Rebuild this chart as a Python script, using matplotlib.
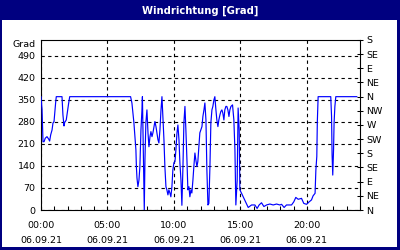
import numpy as np
import matplotlib
matplotlib.use("Agg")
import matplotlib.pyplot as plt
from matplotlib.patches import Rectangle
from matplotlib.ticker import MultipleLocator

# ─── DATA ─────────────────────────────────────────────────────────────
# time of day in hours (06.09.21), wind direction in degrees
hours = [0.00, 0.08, 0.15, 0.23, 0.32, 0.45, 0.58, 0.65, 0.73, 0.83, 0.90, 0.98,
         1.03, 1.11, 1.15, 1.58, 1.65, 1.73, 1.78, 1.90, 1.98, 2.08, 2.16,
         6.74, 6.84, 6.92, 6.99, 7.07, 7.14, 7.18, 7.22, 7.29, 7.37, 7.44, 7.52,
         7.59, 7.63, 7.77, 7.82, 7.89, 7.97, 8.05, 8.12, 8.20, 8.27, 8.35, 8.42,
         8.50, 8.57, 8.65, 8.72, 8.80, 8.87, 8.95, 9.02, 9.10, 9.17, 9.25, 9.32,
         9.40, 9.47, 9.55, 9.62, 9.70, 9.77, 9.85, 9.92, 10.00,
         10.08, 10.15, 10.23, 10.30, 10.38, 10.45, 10.53, 10.60, 10.68, 10.75,
         10.83, 10.90, 10.98, 11.05, 11.13, 11.20, 11.28, 11.35, 11.43, 11.50,
         11.58, 11.65, 11.73, 11.80, 11.88, 11.95, 12.03, 12.11, 12.18, 12.26,
         12.33, 12.41, 12.48, 12.56, 12.63, 12.71, 12.78, 12.86, 12.93, 13.01,
         13.08, 13.16, 13.23, 13.31, 13.38, 13.46, 13.53, 13.61, 13.68, 13.76,
         13.83, 13.91, 13.98, 14.06, 14.14, 14.21, 14.29, 14.41, 14.51, 14.59,
         14.66, 14.76, 14.83, 14.91, 14.96,
         15.09, 15.21, 15.59, 15.84, 16.09, 16.26, 16.41, 16.59, 16.77, 16.97,
         17.22, 17.47, 17.72, 17.97, 18.10, 18.29, 18.47, 18.85, 19.02, 19.17,
         19.35, 19.60, 19.77, 19.98, 20.15, 20.35, 20.47, 20.62, 20.68, 20.75,
         20.79, 20.85, 21.80, 21.86, 21.90, 21.95, 22.01, 22.05, 22.11, 22.18,
         23.76]
direction = [360, 318, 217, 217, 228, 233, 225, 219, 239, 254, 276, 281,
             307, 345, 360, 360, 302, 267, 278, 286, 310, 339, 360,
             360, 340, 308, 277, 233, 191, 134, 102, 74, 95, 138, 255,
             313, 360, 0, 159, 277, 318, 245, 201, 233, 249, 233, 245,
             265, 281, 265, 245, 223, 213, 255, 313, 360, 297, 223, 138,
             74, 64, 48, 64, 54, 42, 74, 127, 150,
             154, 191, 245, 270, 223, 150, 95, 15, 138, 277,
             329, 255, 159, 64, 74, 42, 64, 54, 95, 138,
             181, 159, 138, 154, 201, 245, 255, 265, 297, 318,
             340, 286, 127, 16, 21, 138, 277, 318, 329, 350,
             360, 318, 286, 265, 286, 302, 313, 318, 308, 286,
             318, 329, 329, 318, 297, 318, 329, 334, 286, 191,
             16, 95, 324, 255, 64,
             53, 42, 8, 16, 16, 5, 16, 23, 11, 16,
             19, 16, 19, 16, 18, 8, 16, 16, 26, 40,
             34, 37, 21, 18, 25, 32, 45, 53, 127, 170,
             281, 360, 360, 297, 175, 111, 191, 277, 329, 360,
             360]

x_major = [0, 5, 10, 15, 20]
x_labels = ['00:00\n06.09.21', '05:00\n06.09.21', '10:00\n06.09.21',
            '15:00\n06.09.21', '20:00\n06.09.21']
y_left = [0, 70, 140, 210, 280, 350, 420, 490]
compass = ['N', 'NE', 'E', 'SE', 'S', 'SW', 'W', 'NW',
           'N', 'NE', 'E', 'SE', 'S']

NAVY = '#000080'
FS = 6.8

# ─── FIGURE ───────────────────────────────────────────────────────────
fig = plt.figure(figsize=(4, 2.5), dpi=100)
fig.patch.set_facecolor('white')

# title bar and frame
fig.patches.append(Rectangle((0, 1 - 20 / 250), 1, 20 / 250, transform=fig.transFigure,
                             facecolor=NAVY, edgecolor='none', zorder=0))
fig.patches.append(Rectangle((0, 0), 2 / 400, 1, transform=fig.transFigure,
                             facecolor=NAVY, edgecolor='none', zorder=0))
fig.patches.append(Rectangle((397 / 400, 0), 3 / 400, 1, transform=fig.transFigure,
                             facecolor=NAVY, edgecolor='none', zorder=0))
fig.patches.append(Rectangle((0, 0), 1, 3 / 250, transform=fig.transFigure,
                             facecolor=NAVY, edgecolor='none', zorder=0))
fig.text(0.5, 1 - 10.5 / 250, 'Windrichtung [Grad]', color='white', fontsize=7.2,
         fontweight='bold', ha='center', va='center')

ax = fig.add_axes([41 / 400, 40 / 250, 319 / 400, 170 / 250])
ax.set_facecolor('white')
ax.plot(hours, direction, color='#0000ff', lw=0.85, zorder=3)

ax.set_xlim(0, 24)
ax.set_ylim(0, 540)

ax.set_xticks(x_major)
ax.set_xticklabels(x_labels, fontsize=FS, linespacing=1.9)
ax.xaxis.set_minor_locator(MultipleLocator(1))
ax.tick_params(axis='x', which='both', direction='in', length=3, width=0.75, pad=8)

ax.set_yticks(y_left)
ax.set_yticklabels([str(v) for v in y_left], fontsize=FS)
ax.tick_params(axis='y', direction='in', length=0, pad=4)

ax.grid(True, which='major', color='black', linestyle=(0, (3, 3)), linewidth=0.8)
for s in ax.spines.values():
    s.set_color('black')
    s.set_linewidth(0.8)

# compass scale on the right
ax2 = ax.twinx()
ax2.set_ylim(0, 540)
ax2.set_yticks(np.arange(0, 541, 45))
ax2.set_yticklabels(compass, fontsize=FS)
ax2.tick_params(axis='y', direction='inout', length=5, width=0.75, pad=2)
for s in ax2.spines.values():
    s.set_visible(False)

fig.text(36 / 400, 1 - 45 / 250, 'Grad', fontsize=FS, ha='right', va='center')

plt.savefig('out.png', dpi=100)
